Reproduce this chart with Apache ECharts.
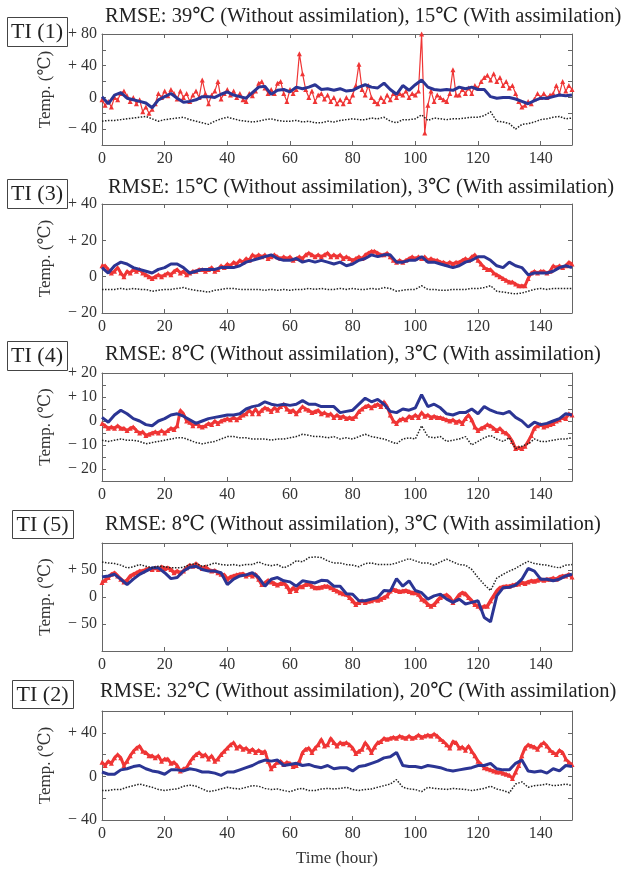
<!DOCTYPE html>
<html lang="en" style="height: 100%">
<head>
  <meta charset="utf-8">
</head>
<body style="height: 100%; margin: 0; background: #fff">
  <div id="container" style="width: 627px; height: 870px"></div>
  <script type="text/javascript" src="https://fastly.jsdelivr.net/npm/echarts@6/dist/echarts.min.js"></script>
  <script type="text/javascript">
    // hours of the records
    var HOURS = [];
    for (var h = 0; h <= 150; h++) HOURS.push(h);
    var EVEN = [];
    for (var e = 0; e <= 150; e += 2) EVEN.push(e);

    // TI (1)
    var red1 = [-3,-10,-5,-12,0,-3,5,8,2,-5,
      0,-8,-3,-18,-12,-20,-15,-8,5,0,
      8,2,10,5,-2,8,0,5,-5,3,
      8,0,22,5,-8,3,8,20,-2,5,
      10,3,8,0,5,-3,-5,5,2,8,
      18,20,12,5,10,5,18,20,5,-5,
      10,5,10,55,30,10,0,8,-5,3,
      5,-2,3,-5,0,-8,-3,-8,0,-5,
      3,15,42,10,3,15,0,-5,-8,0,
      -5,3,-3,5,0,5,3,8,0,5,
      3,8,80,-45,-10,8,-5,3,0,-3,
      -5,5,35,3,3,10,5,12,5,15,
      12,20,25,28,22,30,20,25,15,20,
      12,15,5,-5,-12,-10,-5,-8,-2,5,
      0,5,0,3,5,15,5,20,8,15,
      10];
    var blue1 = [1,-8,3,6,-1,-3,-5,-7,-13,-3,
      1,5,-1,-6,-5,-3,1,1,0,4,
      7,3,1,-1,6,13,14,4,9,10,
      7,13,11,13,16,10,11,9,11,8,
      9,13,16,13,12,18,10,4,15,9,
      16,22,13,10,9,10,9,13,11,13,
      10,10,1,-1,0,0,-2,-5,-8,-4,
      -1,-1,1,3,2,3];
    var dot1 = [-30,-29,-29,-28,-27,-26,-25,-24,-27,-30,
      -28,-27,-26,-25,-28,-30,-32,-34,-30,-27,
      -25,-27,-29,-30,-31,-30,-28,-27,-29,-30,
      -30,-29,-31,-30,-32,-32,-30,-31,-29,-28,
      -27,-28,-28,-26,-27,-25,-30,-32,-28,-28,
      -27,-22,-29,-26,-27,-28,-27,-27,-26,-25,
      -25,-23,-18,-30,-31,-33,-40,-34,-33,-31,
      -28,-27,-25,-24,-27,-26];

    // TI (3)
    var red3 = [6,6,4,2,3,5,2,0,3,2,
      4,3,4,2,1,0,-1,0,1,0,
      1,2,1,3,4,2,3,1,2,3,
      3,4,4,3,4,5,3,4,6,5,
      7,6,8,7,9,8,10,9,12,11,
      12,11,12,10,11,12,11,10,11,10,
      11,9,10,11,10,12,13,12,11,12,
      11,12,13,11,12,11,12,10,11,10,
      9,10,11,10,12,13,14,14,13,12,
      12,13,11,9,8,9,8,9,10,11,
      10,11,10,11,9,10,9,9,8,8,
      7,8,7,8,8,9,10,9,11,12,
      9,7,5,4,4,2,1,0,-1,-2,
      -3,-3,-4,-5,-5,-5,-1,2,3,2,
      3,3,2,3,6,5,6,5,6,8,
      7];
    var blue3 = [5,2,6,8,7,5,4,3,2,4,
      5,7,7,5,2,3,4,4,4,5,
      5,5,6,8,9,10,11,12,10,9,
      9,10,8,9,8,9,8,7,8,6,
      7,9,10,12,11,12,12,8,8,9,
      9,11,8,8,7,6,5,6,8,9,
      11,11,9,6,5,8,6,5,1,2,
      2,2,3,5,6,5];
    var dot3 = [-7,-7,-7,-6.5,-7,-6.5,-7,-7,-8,-7.5,
      -7,-7,-6.5,-6,-7,-7.5,-8,-8.5,-7.5,-7,
      -6.5,-6.5,-7,-7,-7,-7,-7.5,-7,-7.5,-7,
      -7.5,-7,-7,-6.5,-7,-6.5,-7,-7,-6.5,-7,
      -6.5,-7,-7,-6.5,-7,-6,-6.5,-8,-7.5,-7,
      -7,-5,-7,-7,-7.5,-7.5,-7,-7,-7,-6.5,
      -6.5,-6,-5,-8,-8.5,-9,-9.5,-9,-8,-7,
      -6.5,-7,-6.5,-6.5,-6.5,-6.5];

    // TI (4)
    var red4 = [-1,-2,-3,-2.5,-3,-2,-3,-3,-4,-3,
      -2.5,-4,-5,-4.5,-6,-5.5,-5,-4.5,-5,-4,
      -5,-4,-3,-3.5,-2,4.5,3,0,-0.5,-2,
      -1,-2,-2.5,-2,-1,-1.5,0,-1,0,0.5,
      1,0.5,1.5,0.5,1.5,2.5,3,4.5,3,5,
      3,4.5,5.5,5,4,5.5,4.5,6,7,5,
      4,4.5,3,4.5,6,5,4.5,3.5,4,4.5,
      3,3.5,2.5,3,1.5,2.5,1.5,2,1,1.5,
      1,2,4,5,6,6.5,5.5,6.5,7,6,
      8,6,2.5,0,-1,0.5,1,0.5,2,1.5,
      2.5,1.5,3.5,2,2.5,1.5,2,1.5,1.5,1,
      0.5,0,0.5,-0.5,0,-1,1,2.5,0.5,-2.5,
      -4,-3,-2.5,-1.5,-2,-3,-4,-3,-4.5,-5,
      -6.5,-8.5,-11.5,-11,-11.5,-10.5,-8.5,-6,-3,-2,
      -1.5,-2.5,-2,-1.5,-1,0,0.5,1.5,1,3,
      2.5];
    var blue4 = [1.5,-0.5,2.5,4.5,3,1,0,-1.5,-2,0,
      1,2.5,3,2,0.5,-1,0,1,1.5,2,
      2.5,2.5,3,5,6,6.5,8,7,6.5,7,
      6.5,7,8.5,7,7,6,6,6,3.5,4,
      4.5,7,9.5,8,9,7,4,3.5,5,4.5,
      5.5,11,6,7,5.5,3,2.5,3.5,3.5,5,
      3,6,4.5,3.5,3,4,1.5,0,-2.5,-0.5,
      -1.5,-1,0,1,3,2.5];
    var dot4 = [-8,-8.5,-8,-7.5,-8,-8,-8.5,-9.5,-9,-8.5,
      -8,-7.5,-7,-7,-8,-9,-9.5,-9,-8.5,-7.5,
      -6.5,-6.5,-7,-7,-7.5,-7.5,-7.5,-8,-7.5,-7.5,
      -7,-6.5,-5.5,-6,-6.5,-6.5,-7,-6.5,-7.5,-7,
      -7.5,-6.5,-5.5,-6.5,-7,-7.5,-8.5,-9.5,-7.5,-7,
      -7.5,-2,-6.5,-7,-6.5,-8.5,-8,-7.5,-6.5,-10,
      -8.5,-7,-6,-7.5,-8.5,-7,-11.5,-10.5,-9.5,-7.5,
      -8.5,-8.5,-8,-7.5,-7.5,-7];

    // TI (5)
    var red5 = [27,31,36,42,45,39,33,28,31,39,
      42,45,48,48,51,53,51,54,51,56,
      53,54,51,45,48,45,48,54,59,57,
      62,57,53,56,51,48,49,45,42,41,
      33,37,39,41,42,43,39,42,39,42,
      33,23,26,31,28,25,22,25,26,20,
      10,17,12,20,19,23,24,20,17,17,
      18,20,20,17,14,11,8,6,5,-1,
      -7,-14,-10,-7,-10,-8,-7,-4,-6,-4,
      -1,2,11,14,12,10,11,12,10,8,
      8,5,-4,-7,-14,-17,-14,-7,-1,2,
      4,-1,-10,-4,4,8,6,-1,-7,-14,
      -17,-20,-17,-17,-7,2,11,17,19,20,
      20,22,23,24,27,25,28,30,29,31,
      33,31,33,33,35,33,37,39,39,42,
      37];
    var blue5 = [37,39,42,33,23,33,42,48,54,54,
      45,34,36,48,55,57,51,48,48,45,
      23,33,39,41,45,36,20,33,36,30,
      28,20,30,28,26,31,30,20,20,6,
      5,-7,-7,-4,-1,12,11,34,20,30,
      12,8,-4,2,5,-4,-10,-4,-13,-10,
      -7,-38,-46,2,17,18,22,33,53,48,
      33,33,30,33,39,42];
    var dot5 = [65,63,62,59,54,56,60,57,54,57,
      56,54,54,55,60,62,57,59,63,60,
      59,60,58,60,60,65,60,58,60,54,
      59,67,65,73,74,73,67,63,63,60,
      59,56,62,63,60,60,60,63,67,71,
      67,63,63,59,65,70,65,60,59,51,
      36,23,12,35,42,48,53,60,66,62,
      60,59,56,54,59,60];

    // TI (2)
    var red2 = [13,10,14,12,17,20,17,10,14,19,
      23,26,28,23,22,19,19,17,19,14,
      16,16,12,13,10,5,7,8,13,17,
      20,22,19,20,16,19,14,16,20,23,
      26,29,31,26,28,25,26,23,25,22,
      24,22,23,14,7,10,13,14,11,13,
      12,9,10,14,22,25,26,22,26,29,
      34,28,29,35,31,28,31,30,31,29,
      26,21,23,25,31,27,22,27,31,32,
      35,34,35,36,35,37,36,35,37,35,
      36,38,36,37,38,37,39,37,34,32,
      29,26,32,31,26,27,24,28,23,19,
      14,11,8,7,6,5,4,4,3,2,
      1,-2,4,10,19,26,29,28,27,25,
      29,31,28,24,22,20,24,22,16,13,
      11];
    var blue2 = [4,2,2,6,7,9,10,7,5,4,
      2,6,6,5,7,6,4,4,3,1,
      4,4,6,8,10,13,15,14,15,10,
      11,12,10,11,9,8,10,7,8,8,
      5,9,10,12,14,17,18,22,10,9,
      9,8,10,9,8,6,5,6,7,8,
      10,10,12,7,6,6,12,15,5,4,
      5,3,7,5,10,9];
    var dot2 = [-13,-13,-12,-12,-10,-8.5,-7,-8.5,-10,-12,
      -13,-12,-11.5,-9,-8,-9,-11.5,-14,-13,-11.5,
      -10,-11,-11.5,-10,-8.5,-9,-11,-12,-11.5,-13,
      -14,-12,-11,-13,-13,-11.5,-11,-11.5,-11,-10,
      -12,-13,-12,-11.5,-10,-8.5,-7,-3,-10,-11.5,
      -12,-14,-10,-11,-11.5,-12,-11,-11.5,-12,-13,
      -12,-11,-9,-11.5,-13,-15,-7,-5,-10,-8.5,
      -8,-7,-8.5,-8,-7,-8.5];

    var TAGS = ['TI (1)', 'TI (3)', 'TI (4)', 'TI (5)', 'TI (2)'];
    var RMSE_TEXT = [
      'RMSE: 39℃ (Without assimilation), 15℃ (With assimilation)',
      'RMSE: 15℃ (Without assimilation), 3℃ (With assimilation)',
      'RMSE: 8℃ (Without assimilation), 3℃ (With assimilation)',
      'RMSE: 8℃ (Without assimilation), 3℃ (With assimilation)',
      'RMSE: 32℃ (Without assimilation), 20℃ (With assimilation)'
    ];
    var REDS = [red1, red3, red4, red5, red2];
    var BLUES = [blue1, blue3, blue4, blue5, blue2];
    var DOTS = [dot1, dot3, dot4, dot5, dot2];
    var Y_MIN = [-60, -20, -25, -100, -40];
    var Y_MAX = [80, 40, 20, 100, 60];
    var Y_STEP = [20, 20, 5, 50, 20];
    var Y_LABELS = [[80, 40, 0, -40], [40, 20, 0, -20], [20, 10, 0, -10, -20], [50, 0, -50], [40, 0, -40]];
    var X_LABELS = [0, 20, 40, 60, 80, 100, 120, 140];

    // layout (px)
    var GRID_TOP = [34, 204, 373, 543, 711];
    var GRID_H = [111, 109, 108, 108, 109];
    var TAG_BOX = [[7, 17, 60, 29], [7, 179, 60, 29], [7, 341, 60, 29], [12, 510, 61, 28], [12, 680, 61, 28]];
    var TITLE_POS = [[105, 17], [108, 188], [105, 355], [105, 525], [100, 692]];
    var RED_WIDTH = [1.2, 3, 3, 3.5, 3];

    var SERIF = '"Liberation Serif", "DejaVu Serif", "Noto Sans CJK SC", serif';
    var FRAME = '#666';
    var RED = '#ef3535';

    function pairs(xs, ys) {
      return ys.map(function (v, i) { return [xs[i], v]; });
    }
    function yFmt(list) {
      return function (v) {
        if (list.indexOf(v) < 0) return '';
        if (v > 0) return '+ ' + v;
        if (v < 0) return '\u2212 ' + Math.abs(v);
        return '0';
      };
    }

    var dom = document.getElementById('container');
    var myChart = echarts.init(dom, null, { renderer: 'canvas' });

    var grids = [], xAxes = [], yAxes = [], series = [], graphics = [];
    for (var i = 0; i < 5; i++) {
      grids.push({ left: 102, width: 470, top: GRID_TOP[i], height: GRID_H[i] });
      var tick = { show: true, inside: true, length: 4, lineStyle: { color: FRAME } };
      var line = { show: true, onZero: false, lineStyle: { color: FRAME, width: 1 } };
      xAxes.push({
        type: 'value', gridIndex: i, min: 0, max: 150, interval: 20, position: 'bottom',
        axisLine: line, axisTick: tick, splitLine: { show: false },
        axisLabel: {
          margin: 6, color: '#333', fontFamily: SERIF, fontSize: 16, showMaxLabel: false,
          formatter: function (v) { return X_LABELS.indexOf(v) < 0 ? '' : String(v); }
        },
        name: i === 4 ? 'Time (hour)' : '', nameLocation: 'middle', nameGap: 30,
        nameTextStyle: { color: '#333', fontFamily: SERIF, fontSize: 17 }
      });
      xAxes.push({
        type: 'value', gridIndex: i, min: 0, max: 150, interval: 20, position: 'top',
        axisLine: line, axisTick: tick, splitLine: { show: false }, axisLabel: { show: false }
      });
      yAxes.push({
        type: 'value', gridIndex: i, min: Y_MIN[i], max: Y_MAX[i], interval: Y_STEP[i], position: 'left',
        axisLine: line, axisTick: tick, splitLine: { show: false },
        axisLabel: { margin: 5, color: '#333', fontFamily: SERIF, fontSize: 16, formatter: yFmt(Y_LABELS[i]) },
        name: 'Temp. (℃)', nameLocation: 'middle', nameRotate: 90, nameGap: 48,
        nameTextStyle: { color: '#333', fontFamily: SERIF, fontSize: 17 }
      });
      yAxes.push({
        type: 'value', gridIndex: i, min: Y_MIN[i], max: Y_MAX[i], interval: Y_STEP[i], position: 'right',
        axisLine: line, axisTick: tick, splitLine: { show: false }, axisLabel: { show: false }
      });

      series.push({
        type: 'line', xAxisIndex: 2 * i, yAxisIndex: 2 * i, data: pairs(HOURS, REDS[i]),
        symbol: 'triangle', symbolSize: 5, showSymbol: true, showAllSymbol: true,
        lineStyle: { color: RED, width: RED_WIDTH[i] }, itemStyle: { color: RED }, z: 2
      });
      series.push({
        type: 'line', xAxisIndex: 2 * i, yAxisIndex: 2 * i, data: pairs(EVEN, BLUES[i]),
        symbol: 'none', lineStyle: { color: '#2b3594', width: 3 }, z: 3
      });
      series.push({
        type: 'line', xAxisIndex: 2 * i, yAxisIndex: 2 * i, data: pairs(EVEN, DOTS[i]),
        symbol: 'none', lineStyle: { color: '#222', width: 1.5, type: 'dotted' }, z: 4
      });

      var b = TAG_BOX[i];
      graphics.push({
        type: 'rect', left: b[0], top: b[1], shape: { width: b[2], height: b[3] },
        style: { fill: '#fff', stroke: '#444', lineWidth: 1 }
      });
      graphics.push({
        type: 'text', x: b[0] + b[2] / 2, y: b[1] + b[3] / 2 + 1,
        style: { text: TAGS[i], font: '22px ' + SERIF, fill: '#222', textAlign: 'center', textVerticalAlign: 'middle' }
      });
      graphics.push({
        type: 'text', x: TITLE_POS[i][0], y: TITLE_POS[i][1],
        style: { text: RMSE_TEXT[i], font: '20.5px ' + SERIF, fill: '#222', textAlign: 'left', textVerticalAlign: 'middle' }
      });
    }

    var option = {
      animation: false,
      backgroundColor: '#fff',
      grid: grids,
      xAxis: xAxes,
      yAxis: yAxes,
      series: series,
      graphic: { elements: graphics }
    };
    myChart.setOption(option);
    window.addEventListener('resize', myChart.resize);
  </script>
</body>
</html>
